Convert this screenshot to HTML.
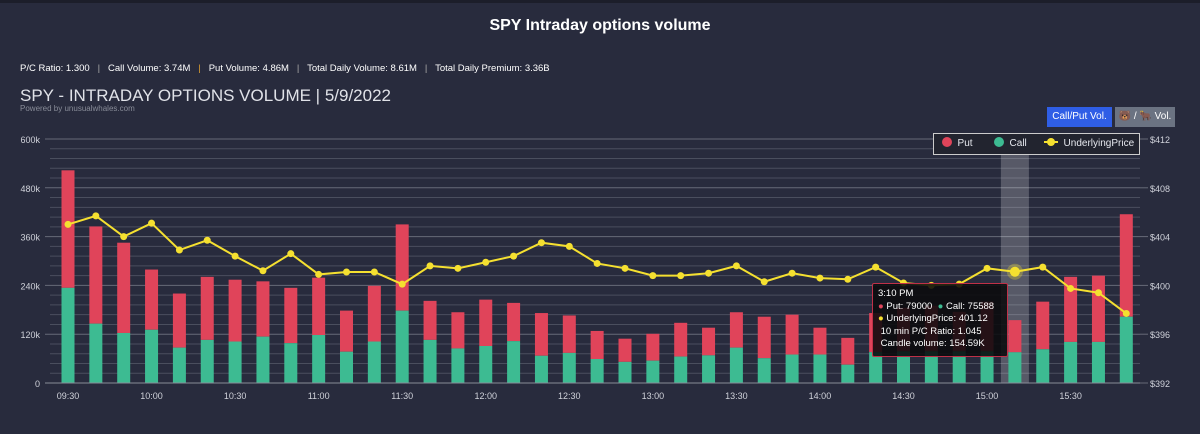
<!DOCTYPE html>
<html><head><meta charset="utf-8"><style>
body{margin:0;width:1200px;height:434px;background:#282b3d;font-family:"Liberation Sans",sans-serif;overflow:hidden;position:relative;color:#e6e8ee}
.abs{position:absolute}
</style></head><body>
<div class="abs" style="left:0;top:0;width:1200px;height:3px;background:#1c1e2a"></div>
<div class="abs" style="left:0;width:1200px;top:17px;text-align:center;font-weight:bold;font-size:16px;color:#fff">SPY Intraday options volume</div>
<div class="abs" style="left:20px;top:63px;font-size:9.5px;color:#fff;white-space:pre">P/C Ratio: 1.300   <span style="color:#aaa">|</span>   Call Volume: 3.74M   <span style="color:#e0a030">|</span>   Put Volume: 4.86M   <span style="color:#aaa">|</span>   Total Daily Volume: 8.61M   <span style="color:#aaa">|</span>   Total Daily Premium: 3.36B</div>
<div class="abs" style="left:20px;top:86px;font-size:17px;color:#e0e2e8">SPY - INTRADAY OPTIONS VOLUME | 5/9/2022</div>
<div class="abs" style="left:20px;top:104px;font-size:8px;color:#888c98">Powered by unusualwhales.com</div>
<div class="abs" style="left:1047px;top:107px;width:65px;height:20px;background:#2f5ee6;color:#fff;font-size:10px;line-height:20px;text-align:center">Call/Put Vol.</div>
<div class="abs" style="left:1115px;top:107px;width:60px;height:20px;background:#6b7382;color:#fff;font-size:10px;line-height:20px;text-align:center">🐻 / 🐂 Vol.</div>
<svg class="abs" style="left:0;top:0" width="1200" height="434">
<g id="grid"></g><g id="bars"></g><g id="line"></g><g id="axes"></g>
</svg>
<div class="abs" style="left:933px;top:133px;width:205px;height:20px;border:1px solid #ccc;background:#22242f;font-size:10px;color:#e6e8ee;line-height:20px">
<span style="position:absolute;left:8px"><span style="display:inline-block;width:10px;height:10px;border-radius:5px;background:#e0445a;vertical-align:-1px"></span>&nbsp; Put</span>
<span style="position:absolute;left:60px"><span style="display:inline-block;width:10px;height:10px;border-radius:5px;background:#3dbb92;vertical-align:-1px"></span>&nbsp; Call</span>
<span style="position:absolute;left:110px"><span style="display:inline-block;width:14px;height:2px;background:#f5e030;vertical-align:3px;position:relative"><span style="position:absolute;left:3px;top:-3px;width:8px;height:8px;border-radius:4px;background:#f5e030"></span></span>&nbsp; UnderlyingPrice</span>
</div>
<div class="abs" style="left:872px;top:283px;width:136px;height:74px;background:rgba(10,10,12,0.88);border:1px solid #c03048;border-radius:2px;font-size:9.5px;color:#fff;line-height:12.5px;padding:4px 5px;box-sizing:border-box">
3:10 PM<br><span style="color:#e0445a">●</span> Put: 79000 &nbsp;<span style="color:#3dbb92">●</span> Call: 75588<br><span style="color:#f5e030">●</span> UnderlyingPrice: 401.12<br>&nbsp;10 min P/C Ratio: 1.045<br>&nbsp;Candle volume: 154.59K</div>
<script>
const times=["09:30","09:40","09:50","10:00","10:10","10:20","10:30","10:40","10:50","11:00","11:10","11:20","11:30","11:40","11:50","12:00","12:10","12:20","12:30","12:40","12:50","13:00","13:10","13:20","13:30","13:40","13:50","14:00","14:10","14:20","14:30","14:40","14:50","15:00","15:10","15:20","15:30","15:40","15:50"];
const callVol=[234,146,123,131,87,106,102,114,98,118,77,102,178,106,85,91,103,67,74,59,52,55,65,68,87,61,70,70,45,76,78,78,78,78,75.588,83,101,101,163];
const totalVol=[523,385,345,279,220,261,254,250,234,259,178,239,390,202,174,205,197,172,166,128,109,121,148,136,174,163,168,136,111,172,185,190,175,200,154.588,200,261,264,415];
const price=[405.0,405.7,404.0,405.1,402.9,403.7,402.4,401.2,402.6,400.9,401.1,401.1,400.1,401.6,401.4,401.9,402.4,403.5,403.2,401.8,401.4,400.8,400.8,401.0,401.6,400.3,401.0,400.6,400.5,401.5,400.2,400.0,400.1,401.4,401.12,401.5,399.75,399.4,397.7];
const volTicks=[0,120,240,360,480,600];
const priceTicks=[392,396,400,404,408,412];
const highlightIndex=34;
const NS="http://www.w3.org/2000/svg";
const X0=68,STEP=27.85,Y0=383,YT=139,L=50,R=1140;
const xs=i=>X0+i*STEP;
const yv=v=>Y0-(v/600)*(Y0-YT);
const yp=p=>Y0-((p-392)/20)*(Y0-YT);
function mk(t,a,p){const e=document.createElementNS(NS,t);for(const k in a)e.setAttribute(k,a[k]);p.appendChild(e);return e;}
const grid=document.getElementById('grid'),bars=document.getElementById('bars'),line=document.getElementById('line'),axes=document.getElementById('axes');
for(let v=0;v<=600;v+=24){const l=mk('line',{x1:v%120==0?45:L,x2:R,y1:yv(v),y2:yv(v),stroke:v%120==0?'#666a78':'#4a4e5e','stroke-width':1},grid);

}
volTicks.forEach(v=>{const t=mk('text',{x:40,y:yv(v)+4,'text-anchor':'end','font-size':9,fill:'#d0d2da'},axes);t.textContent=v==0?'0':v+'k';

});
priceTicks.forEach(p=>{mk('line',{x1:R,x2:1148,y1:yp(p),y2:yp(p),stroke:'#666a78'},axes);const t=mk('text',{x:1150,y:yp(p)+4,'font-size':9,fill:'#d0d2da'},axes);t.textContent='$'+p;

});
const hb=mk('rect',{x:xs(highlightIndex)-14,y:YT,width:28,height:Y0-YT,fill:'rgba(255,255,255,0.22)'},bars);


times.forEach((t,i)=>{const x=xs(i)-6.5;
const p=mk('rect',{x:x,y:yv(totalVol[i]),width:13,height:yv(callVol[i])-yv(totalVol[i]),fill:'#e0445a'},bars);


const c=mk('rect',{x:x,y:yv(callVol[i]),width:13,height:Y0-yv(callVol[i]),fill:'#3dbb92'},bars);


if(i%3==0){const tx=mk('text',{x:xs(i),y:399,'text-anchor':'middle','font-size':9,fill:'#d0d2da'},axes);tx.textContent=t;

}});
mk('line',{x1:45,x2:R,y1:Y0,y2:Y0,stroke:'#888c98'},axes);
const pl=mk('polyline',{points:price.map((p,i)=>xs(i)+','+yp(p)).join(' '),fill:'none',stroke:'#f5e030','stroke-width':2},line);


price.forEach((p,i)=>{if(i==highlightIndex){mk('circle',{cx:xs(i),cy:yp(p),r:8,fill:'rgba(245,224,48,0.3)'},line);}
const d=mk('circle',{cx:xs(i),cy:yp(p),r:i==highlightIndex?5:3.5,fill:'#f5e030'},line);

});
</script>
</body></html>
